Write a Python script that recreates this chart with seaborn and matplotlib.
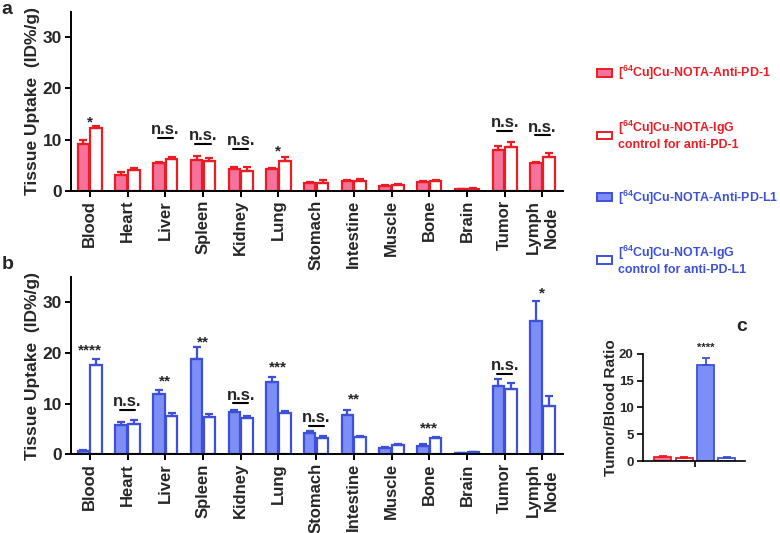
import numpy as np
import pandas as pd
import seaborn as sns
import matplotlib.pyplot as plt
from matplotlib.patches import Patch

tissues = ["Blood", "Heart", "Liver", "Spleen", "Kidney", "Lung", "Stomach",
           "Intestine", "Muscle", "Bone", "Brain", "Tumor", "Lymph\nNode"]

# panel a: anti-PD-1 vs IgG control
pd1_mean = [9.2, 3.1, 5.4, 6.1, 4.3, 4.2, 1.6, 1.9, 0.9, 1.8, 0.3, 7.9, 5.4]
pd1_err = [0.8, 0.5, 0.3, 0.7, 0.3, 0.3, 0.2, 0.2, 0.2, 0.2, 0.1, 0.9, 0.3]
igg1_mean = [12.2, 4.0, 6.3, 5.9, 3.8, 5.9, 1.6, 2.0, 1.1, 2.0, 0.4, 8.5, 6.7]
igg1_err = [0.4, 0.5, 0.4, 0.6, 0.8, 0.8, 0.5, 0.3, 0.2, 0.2, 0.1, 1.0, 0.6]

# panel b: anti-PD-L1 vs IgG control
pdl1_mean = [0.6, 5.8, 11.8, 18.9, 8.4, 14.2, 4.2, 7.8, 1.3, 1.7, 0.2, 13.5, 26.3]
pdl1_err = [0.2, 0.5, 0.9, 2.2, 0.4, 1.0, 0.3, 0.9, 0.2, 0.3, 0.1, 1.4, 3.9]
igg2_mean = [17.6, 6.0, 7.6, 7.4, 7.1, 8.2, 3.1, 3.3, 1.8, 3.1, 0.4, 12.8, 9.5]
igg2_err = [1.3, 0.7, 0.5, 0.6, 0.5, 0.4, 0.5, 0.3, 0.2, 0.3, 0.1, 1.2, 2.0]

sig_a = ["*", "", "n.s.", "n.s.", "n.s.", "*", "", "", "", "", "", "n.s.", "n.s."]
sig_a_y = [14.2, 0, 10.4, 9.2, 8.2, 8.6, 0, 0, 0, 0, 0, 11.7, 10.9]
sig_b = ["****", "n.s.", "**", "**", "n.s.", "***", "n.s.", "**", "", "***", "", "n.s.", "*"]
sig_b_y = [21.4, 8.8, 15.2, 23.0, 10.1, 17.9, 5.6, 11.6, 0, 6.0, 0, 15.9, 32.7]

# panel c: tumor/blood ratio
ratio_groups = ["anti-PD-1", "IgG PD-1", "anti-PD-L1", "IgG PD-L1"]
ratio_mean = [0.8, 0.6, 17.9, 0.6]
ratio_err = [0.15, 0.15, 1.3, 0.1]

legend_labels = [
    r"[$^{\mathbf{64}}$Cu]Cu-NOTA-Anti-PD-1",
    "[$^{\\mathbf{64}}$Cu]Cu-NOTA-IgG\ncontrol for anti-PD-1",
    r"[$^{\mathbf{64}}$Cu]Cu-NOTA-Anti-PD-L1",
    "[$^{\\mathbf{64}}$Cu]Cu-NOTA-IgG\ncontrol for anti-PD-L1",
]

RED = "#ec1c24"
PINK = "#f4739c"
BLUE = "#3c50dc"
LBLUE = "#7d8ef6"

sns.set_style("ticks")
plt.rcParams["font.family"] = ["Liberation Sans", "DejaVu Sans"]
plt.rcParams["font.weight"] = "bold"
plt.rcParams["axes.labelweight"] = "bold"
plt.rcParams["mathtext.fontset"] = "custom"
plt.rcParams["mathtext.bf"] = "Liberation Sans:bold"
plt.rcParams["mathtext.rm"] = "Liberation Sans:bold"


def style_axis(ax, lw=1.4):
    sns.despine(ax=ax)
    for side in ["left", "bottom"]:
        ax.spines[side].set_linewidth(lw)
        ax.spines[side].set_color("black")
    ax.tick_params(width=lw, length=4, color="black", pad=2.5)


def uptake_panel(ax, mean1, err1, mean2, err2, fill, edge, sig, sig_y):
    n = len(tissues)
    df = pd.DataFrame({
        "tissue": tissues * 2,
        "group": ["anti"] * n + ["igg"] * n,
        "value": mean1 + mean2,
    })
    sns.barplot(data=df, x="tissue", y="value", hue="group",
                palette={"anti": fill, "igg": "white"}, saturation=1,
                edgecolor=edge, linewidth=1.6, width=0.68, gap=0.1,
                errorbar=None, legend=False, ax=ax)
    for bars, err in zip(ax.containers, [err1, err2]):
        for bar, e in zip(bars, err):
            x = bar.get_x() + bar.get_width() / 2
            ax.errorbar(x, bar.get_height(), yerr=[[0], [e]], color=edge,
                        capsize=3, elinewidth=1.6, capthick=1.6, zorder=1)
    for i, (s, y) in enumerate(zip(sig, sig_y)):
        if s == "n.s.":
            ax.plot([i - 0.2, i + 0.2], [y, y], color="black", lw=1.5)
            ax.annotate(s, (i, y), xytext=(0, 2.5), textcoords="offset points",
                        ha="center", va="baseline", fontsize=12)
        elif s:
            ax.annotate(s, (i, y), xytext=(0, -6), textcoords="offset points",
                        ha="center", va="baseline", fontsize=11)
    ax.set_ylim(0, 35)
    ax.set_xlim(-0.5, 12.55)
    ax.set_yticks([0, 10, 20, 30])
    ax.set_xlabel("")
    ax.set_ylabel("Tissue Uptake  (ID%/g)", fontsize=12.5, labelpad=2)
    ax.tick_params(axis="y", labelsize=12.5)
    ax.tick_params(axis="x", labelsize=12, rotation=90)
    style_axis(ax)


fig = plt.figure(figsize=(7.8, 5.33), dpi=100)
ax_a = fig.add_axes([0.091, 0.642, 0.631, 0.336])
ax_b = fig.add_axes([0.091, 0.148, 0.631, 0.332])
ax_c = fig.add_axes([0.824, 0.135, 0.131, 0.201])

uptake_panel(ax_a, pd1_mean, pd1_err, igg1_mean, igg1_err, PINK, RED, sig_a, sig_a_y)
uptake_panel(ax_b, pdl1_mean, pdl1_err, igg2_mean, igg2_err, LBLUE, BLUE, sig_b, sig_b_y)

# panel c
df_c = pd.DataFrame({"group": ratio_groups, "value": ratio_mean})
sns.barplot(data=df_c, x="group", y="value", hue="group",
            palette=[PINK, "white", LBLUE, "white"], saturation=1,
            linewidth=1.3, width=0.8, errorbar=None, legend=False, ax=ax_c)
c_edges = [RED, RED, BLUE, BLUE]
for bar, e, ec in zip(ax_c.patches, ratio_err, c_edges):
    bar.set_edgecolor(ec)
    x = bar.get_x() + bar.get_width() / 2
    ax_c.errorbar(x, bar.get_height(), yerr=[[0], [e]], color=ec,
                  capsize=3, elinewidth=1.3, capthick=1.3, zorder=1)
ax_c.annotate("****", (2, ratio_mean[2] + ratio_err[2]), xytext=(0, 5),
              textcoords="offset points", ha="center", va="baseline", fontsize=8)
ax_c.set_ylim(0, 20)
ax_c.set_xlim(-0.94, 3.84)
ax_c.set_yticks([0, 5, 10, 15, 20])
ax_c.set_xticks([1.5])
ax_c.set_xticklabels([""])
ax_c.set_xlabel("")
ax_c.set_ylabel("Tumor/Blood Ratio", fontsize=11, labelpad=1)
ax_c.tick_params(axis="y", labelsize=9.5)
style_axis(ax_c, lw=1.2)

# legend
handles = [
    Patch(facecolor=PINK, edgecolor=RED, linewidth=1.4),
    Patch(facecolor="white", edgecolor=RED, linewidth=1.4),
    Patch(facecolor=LBLUE, edgecolor=BLUE, linewidth=1.4),
    Patch(facecolor="white", edgecolor=BLUE, linewidth=1.4),
]
leg = fig.legend(handles, legend_labels, loc="upper left",
                 bbox_to_anchor=(0.766, 0.88), frameon=False, fontsize=8.9,
                 labelspacing=3.0, handlelength=1.2, handleheight=0.57,
                 handletextpad=0.5, borderpad=0, borderaxespad=0)
for txt, col in zip(leg.get_texts(), [RED, RED, BLUE, BLUE]):
    txt.set_color(col)

fig.text(0.002, 0.998, "a", fontsize=14, va="top", ha="left")
fig.text(0.002, 1 - 256 / 533, "b", fontsize=14, va="top", ha="left")
fig.text(736 / 780, 1 - 318 / 533, "c", fontsize=14, va="top", ha="left")

fig.savefig("out.png", dpi=100)
